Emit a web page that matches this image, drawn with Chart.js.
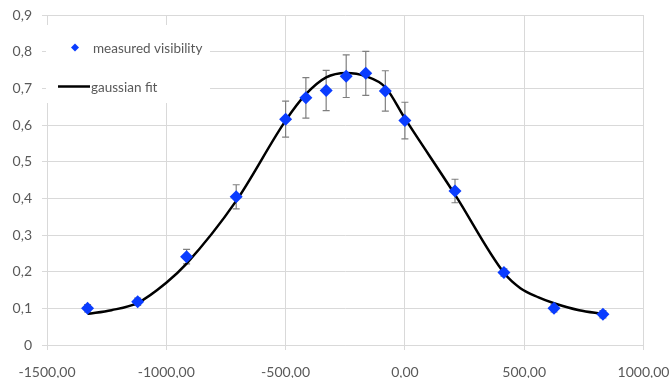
<!DOCTYPE html>
<html>
<head>
<meta charset="utf-8">
<script src="https://cdn.jsdelivr.net/npm/chart.js@4/dist/chart.umd.min.js"></script>
<style>
  html, body { margin: 0; padding: 0; background: #fff; }
  #chart { display: block; }
</style>
</head>
<body>
<canvas id="chart" width="669" height="378"></canvas>
<script>
// measured points (x offset, visibility, error half-height)
const xValues    = [-1330, -1120, -915, -707, -500, -415, -330, -246, -164, -82, 0, 210, 415, 625, 830]
const visibility = [0.100, 0.118, 0.241, 0.404, 0.616, 0.674, 0.694, 0.733, 0.741, 0.693, 0.612, 0.420, 0.198, 0.100, 0.084]
const visErr     = [0.010, 0.010, 0.020, 0.033, 0.049, 0.055, 0.055, 0.058, 0.060, 0.055, 0.050, 0.032, 0.010, 0.010, 0.010]

// gaussian fit curve
const fitX = [-1330, -1230, -1120, -1000, -915, -707, -500, -415, -330, -246, -164, -82, 0, 210, 415, 484, 560, 625, 730, 830]
const fitY = [0.085, 0.095, 0.115, 0.170, 0.222, 0.393, 0.612, 0.684, 0.730, 0.742, 0.733, 0.703, 0.618, 0.410, 0.197, 0.155, 0.130, 0.114, 0.095, 0.085]

const xTicks = [-1500, -1000, -500, 0, 500, 1000]

const GRID  = '#d9d9d9'
const TEXT  = '#595959'
const BLUE  = '#0a3cff'
const FONT  = 'Lato'

const fmtX = v => v.toFixed(2).replace('.', ',')
const fmtY = v => v === 0 ? '0' : v.toFixed(1).replace('.', ',')

// error bars under the markers
const errorBars = {
  id: 'errorBars',
  beforeDatasetsDraw(chart) {
    const { ctx, scales: { x, y } } = chart
    ctx.save()
    ctx.strokeStyle = '#7f7f7f'
    ctx.lineWidth = 1.2
    xValues.forEach((xv, i) => {
      const px = x.getPixelForValue(xv)
      const top = y.getPixelForValue(visibility[i] + visErr[i])
      const bot = y.getPixelForValue(visibility[i] - visErr[i])
      ctx.beginPath()
      ctx.moveTo(px, top); ctx.lineTo(px, bot)
      ctx.moveTo(px - 3.5, top); ctx.lineTo(px + 3.5, top)
      ctx.moveTo(px - 3.5, bot); ctx.lineTo(px + 3.5, bot)
      ctx.stroke()
    })
    ctx.restore()
  }
}

// legend box sitting inside the plot, top left
const insideLegend = {
  id: 'insideLegend',
  afterDatasetsDraw(chart) {
    const { ctx } = chart
    ctx.save()
    ctx.fillStyle = '#fff'
    ctx.fillRect(46, 25, 164, 78)

    // diamond
    ctx.fillStyle = BLUE
    ctx.beginPath()
    ctx.moveTo(75, 43.5); ctx.lineTo(79, 47.5); ctx.lineTo(75, 51.5); ctx.lineTo(71, 47.5)
    ctx.closePath()
    ctx.fill()

    // line
    ctx.strokeStyle = '#000'
    ctx.lineWidth = 2.5
    ctx.beginPath()
    ctx.moveTo(58, 86.5); ctx.lineTo(90, 86.5)
    ctx.stroke()

    ctx.fillStyle = TEXT
    ctx.font = `13.5px ${FONT}`
    ctx.textBaseline = 'middle'
    ctx.textAlign = 'left'
    ctx.fillText('measured visibility', 93, 49)
    ctx.fillText('gaussian fit', 91, 88)
    ctx.restore()
  }
}

new Chart(document.getElementById('chart'), {
  type: 'scatter',
  data: {
    datasets: [
      {
        label: 'measured visibility',
        data: xValues.map((x, i) => ({ x, y: visibility[i] })),
        pointStyle: 'rectRot',
        pointRadius: 6.5,
        backgroundColor: BLUE,
        borderColor: BLUE,
        borderWidth: 0,
        showLine: false,
        order: 0
      },
      {
        label: 'gaussian fit',
        data: fitX.map((x, i) => ({ x, y: fitY[i] })),
        showLine: true,
        pointRadius: 0,
        borderColor: '#000',
        borderWidth: 2.5,
        cubicInterpolationMode: 'monotone',
        fill: false,
        order: 1
      }
    ]
  },
  options: {
    responsive: false,
    animation: false,
    layout: { padding: { top: 15, right: 25.5, left: 0, bottom: 0 } },
    plugins: {
      legend: { display: false },
      tooltip: { enabled: false }
    },
    scales: {
      x: {
        type: 'linear',
        min: -1500,
        max: 1000,
        afterBuildTicks: s => { s.ticks = xTicks.map(value => ({ value })) },
        afterFit: s => { s.height = 33; s.paddingLeft = 0; s.paddingRight = 0 },
        ticks: {
          callback: fmtX,
          color: TEXT,
          font: { family: FONT, size: 14 },
          padding: 14,
          maxRotation: 0
        },
        grid: { color: GRID, tickLength: 5, tickColor: GRID },
        border: { color: GRID }
      },
      y: {
        min: 0,
        max: 0.9,
        afterFit: s => { s.width = 47; s.paddingTop = 0; s.paddingBottom = 0 },
        ticks: {
          stepSize: 0.1,
          callback: fmtY,
          color: TEXT,
          font: { family: FONT, size: 14 },
          padding: 10
        },
        grid: { color: GRID, tickLength: 5, tickColor: GRID },
        border: { color: GRID }
      }
    }
  },
  plugins: [errorBars, insideLegend]
})
</script>
</body>
</html>
